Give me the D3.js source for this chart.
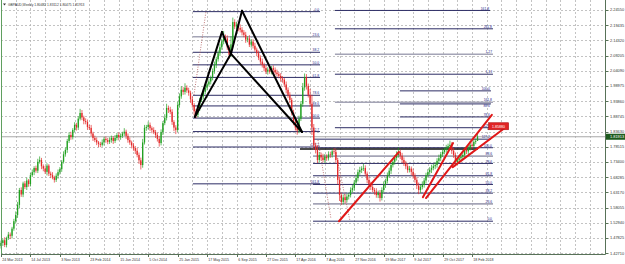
<!DOCTYPE html>
<html>
<head>
<meta charset="utf-8">
<script src="https://cdn.jsdelivr.net/npm/d3@7"></script>
<style>
  body { margin: 0; background: #fff; }
  svg text { font-family: "Liberation Sans", Arial, sans-serif; }
</style>
</head>
<body>
<script>
(function() {

    const width = 625;
    const height = 264;

    // weekly GBPAUD candles, week 0 = 24 Mar 2013
    const firstOpen = 1.452;
    const closes = [
        1.462,1.471,1.455,1.478,1.490,1.486,1.510,1.535,1.556,1.590,
        1.640,1.625,1.662,1.650,1.672,1.660,1.690,1.700,1.714,1.705,
        1.735,1.741,1.720,1.712,1.701,1.722,1.695,1.690,1.682,1.674,
        1.688,1.700,1.710,1.735,1.760,1.775,1.805,1.825,1.818,1.842,
        1.859,1.850,1.880,1.899,1.884,1.872,1.869,1.852,1.849,1.830,
        1.815,1.808,1.800,1.795,1.792,1.800,1.812,1.808,1.802,1.808,
        1.815,1.805,1.815,1.825,1.818,1.822,1.830,1.836,1.822,1.808,
        1.800,1.790,1.781,1.772,1.758,1.740,1.724,1.800,1.849,1.852,
        1.859,1.848,1.842,1.835,1.825,1.812,1.798,1.835,1.865,1.883,
        1.916,1.910,1.903,1.869,1.850,1.842,1.926,1.955,1.977,1.970,
        1.984,1.975,1.967,1.945,1.926,1.905,1.893,1.915,1.943,1.955,
        1.970,1.984,1.995,2.005,2.017,2.040,2.061,2.080,2.100,2.120,
        2.140,2.155,2.150,2.120,2.095,2.130,2.205,2.190,2.196,2.185,
        2.179,2.170,2.162,2.146,2.150,2.129,2.139,2.125,2.112,2.100,
        2.085,2.072,2.061,2.050,2.038,2.045,2.038,2.050,2.044,2.035,
        2.030,2.024,2.015,2.011,1.995,1.977,1.960,1.943,1.900,1.870,
        1.850,1.840,1.880,1.930,1.985,2.020,1.990,1.960,1.930,1.850,
        1.790,1.775,1.741,1.758,1.750,1.741,1.752,1.747,1.760,1.758,
        1.770,1.768,1.741,1.674,1.623,1.600,1.615,1.606,1.618,1.623,
        1.640,1.647,1.665,1.680,1.700,1.707,1.712,1.714,1.695,1.674,
        1.660,1.650,1.640,1.635,1.623,1.630,1.613,1.640,1.657,1.670,
        1.690,1.705,1.724,1.735,1.748,1.758,1.768,1.755,1.741,1.730,
        1.720,1.707,1.712,1.701,1.688,1.674,1.655,1.640,1.650,1.657,
        1.672,1.690,1.700,1.708,1.714,1.720,1.724,1.738,1.747,1.760,
        1.768,1.775,1.781,1.788,1.792,1.772,1.758,1.734,1.740,1.747,
        1.752,1.758,1.775,1.770,1.781,1.792,1.788,1.802,1.80482,1.81913
    ];
    // wick lengths beyond the body, in 0.001
    const wickUp = [
        8,6,10,5,9,7,6,8,12,10, 7,9,6,8,10,5,7,9,6,8,
        10,12,7,6,9,8,5,7,10,6, 8,9,7,6,10,8,7,9,11,6,
        9,7,8,14,10,6,9,8,7,10, 6,8,9,5,7,10,6,8,7,9,
        8,6,10,7,9,8,6,12,7,8, 9,6,8,7,10,8,9,12,10,7,
        11,8,6,9,7,8,10,9,7,12, 14,8,10,9,6,8,11,10,12,9,
        15,8,9,7,10,6,8,9,7,10, 8,9,7,10,8,9,11,8,10,12,
        9,20,8,10,7,27,15,9,10,8, 12,9,8,10,7,11,9,8,10,7,
        9,8,10,7,9,8,11,7,9,8, 10,7,9,8,6,10,8,9,7,10,
        8,12,10,9,15,12,10,8,20,30, 12,9,15,10,8,12,9,8,10,9,
        8,10,9,7,11,8,10,12,9,8, 9,10,8,12,9,11,8,14,9,7,
        10,8,9,7,11,8,10,9,12,8, 9,10,8,11,9,12,15,8,10,9,
        8,10,9,7,11,8,9,10,8,12, 9,8,10,9,11,8,10,9,12,8,
        10,9,11,8,14,9,10,8,12,9, 8,10,9,11,8,12,9,10,8,12
    ];
    const wickDown = [
        9,10,7,8,6,11,9,7,8,10, 12,8,9,7,10,9,8,6,10,7,
        8,6,10,9,7,12,8,10,6,9, 7,10,8,9,6,8,10,7,9,8,
        7,10,8,6,9,11,8,10,7,9, 10,7,9,11,8,6,10,9,8,7,
        9,10,7,8,11,9,7,8,10,9, 8,10,9,11,8,12,15,9,7,10,
        8,9,11,7,10,9,12,8,10,7, 9,11,8,10,12,14,7,9,8,10,
        9,8,10,12,9,14,11,8,9,7, 10,8,9,7,10,8,9,11,8,9,
        8,10,12,9,14,8,10,9,8,11, 9,10,8,11,9,8,10,9,7,10,
        8,10,9,11,8,10,7,9,10,8, 9,8,11,10,9,12,10,11,9,12,
        10,14,9,8,10,11,12,9,10,25, 14,12,10,9,11,8,10,9,8,10,
        9,8,12,15,20,10,9,12,8,10, 8,9,10,8,11,9,10,8,9,11,
        9,10,8,11,9,10,12,8,9,10, 8,9,11,8,10,9,8,11,10,9,
        10,9,8,11,10,9,12,14,10,8, 9,10,8,9,11,8,10,9,8,10,
        9,8,10,9,8,11,10,14,9,8, 10,9,8,9,11,8,10,9,8,0
    ];

    const priceTicks = [2.24550,2.19435,2.14320,2.09205,2.04090,1.98975,1.93860,1.88745,
        1.83630,1.78515,1.73400,1.68285,1.63170,1.58055,1.52940,1.47825,1.42710];
    const dateLabels = ["24 Mar 2013","14 Jul 2013","3 Nov 2013","23 Feb 2014","15 Jun 2014",
        "5 Oct 2014","25 Jan 2015","17 May 2015","6 Sep 2015","27 Dec 2015","17 Apr 2016",
        "7 Aug 2016","27 Nov 2016","19 Mar 2017","9 Jul 2017","29 Oct 2017","18 Feb 2018"];
    const headerText = "GBPAUD,Weekly  1.80482 1.83112 1.80475 1.81913";
    const lastPrice = 1.81913;

    // bat pattern X A B C D (week, price)
    const batWeeks = [105.4, 120.1, 125.0, 131.0, 163.6];
    const batPrices = [1.886, 2.172, 2.098, 2.243, 1.835];

    // fibonacci on the bat leg
    const leftFibLevels = [0, 23.6, 38.2, 50, 61.8, 78.6, 88.6, 100, 112.7, 127.2, 161.8];
    const leftFibText = ["0.0","23.6","38.2","50.0","61.8","78.6","88.6","100.0","112.7","127.2","161.8"];
    const leftFibAnchors = [2.240, 1.882];
    const leftFibWeeks = [104.3, 173.4];

    // fibonacci on the 2016-2018 swing
    const rightFibLevels = [0, 23.6, 38.2, 50, 61.8, 78.6, 88.6, 100, 127.2, 161.8, 200, 227.2, 261.8];
    const rightFibText = ["0.0","23.6","38.2","50.0","61.8","78.6","88.6","100.0","127.2","161.8","1.13","1.27","261.8"];
    const rightFibAnchors = [1.5351, 1.7823];
    const rightFibWeeks = [169.6, 181.5, 267.4];

    // other horizontal levels
    const extraPrices = [2.244, 1.9735, 1.9296, 1.8858, 1.811];
    const extraText = ["161.8", "100.0", "88.6", "78.6", "127.2"];
    const extraFrom = [181.5, 216.8, 216.8, 216.8, 169.6];
    const extraTo = [265.8, 266.3, 266.3, 266.3, 266.3];
    const supportPrice = 1.778;
    const supportWeeks = [162.5, 259.2];

    // red trend lines [week1, price1, week2, price2]
    const redLines = [
        [183.7, 1.535, 216.3, 1.768],
        [229.3, 1.616, 245.7, 1.798],
        [231.0, 1.613, 266.8, 1.893],
        [245.5, 1.717, 274.5, 1.852]
    ];
    // dotted fib diagonals
    const dottedLines = [
        [104.9, 1.960, 111.4, 2.240],
        [172.3, 1.808, 179.3, 1.545],
        [181.5, 1.782, 189.7, 1.535]
    ];
    const redLabelWeek = 265.3;
    const redLabelPrice = 1.8545;
    const redLabelText = "1.85880";

    const start = Date.UTC(2013, 2, 24);
    const weekDate = w => new Date(start + w * 7 * 864e5);
    const parseDate = d3.utcParse("%d %b %Y");

    const plotRight = 605.5;
    const plotBottom = 254.5;

    const x = d3.scaleUtc()
        .domain([weekDate(0), parseDate("18 Feb 2018")])
        .range([1, 472]);
    const y = d3.scaleLinear()
        .domain([1.42710, 2.24550])
        .range([253.3, 10]);
    const xw = w => x(weekDate(w));

    const svg = d3.select("body").append("svg")
        .attr("width", width)
        .attr("height", height);

    svg.append("rect").attr("width", width).attr("height", height).attr("fill", "#fff");

    // grid
    const grid = svg.append("g")
        .attr("stroke", "#b4b4b4")
        .attr("stroke-width", 0.8)
        .attr("stroke-dasharray", "2,2");
    grid.selectAll("line.h")
        .data(priceTicks)
        .enter().append("line")
        .attr("x1", 1).attr("x2", plotRight)
        .attr("y1", d => Math.round(y(d)) + 0.5)
        .attr("y2", d => Math.round(y(d)) + 0.5);
    grid.selectAll("line.v")
        .data(d3.range(8, 330, 8).filter(w => xw(w) < plotRight - 2))
        .enter().append("line")
        .attr("x1", d => Math.round(xw(d)) + 0.5)
        .attr("x2", d => Math.round(xw(d)) + 0.5)
        .attr("y1", 0).attr("y2", plotBottom);

    // bid line
    svg.append("line")
        .attr("x1", 1).attr("x2", plotRight)
        .attr("y1", y(lastPrice)).attr("y2", y(lastPrice))
        .attr("stroke", "#a8a8a8").attr("stroke-width", 1);

    // fibonacci levels
    const fibColor = "#2c2c64";
    const fibGray = "#a4a4b6";
    const grayLevels = new Set([23.6, 88.6, 161.8, 227.2]);
    const rightFibPrices = rightFibLevels.map(lv =>
        rightFibAnchors[0] + (rightFibAnchors[1] - rightFibAnchors[0]) * lv / 100);

    function drawLevel(g, price, w1, w2, label, gray, below) {
        g.append("line")
            .attr("x1", xw(w1)).attr("x2", xw(w2))
            .attr("y1", y(price)).attr("y2", y(price))
            .attr("stroke", gray ? fibGray : fibColor)
            .attr("stroke-width", gray ? 1.6 : 1);
        if (label) {
            g.append("text")
                .attr("x", xw(w2) - 1)
                .attr("y", below ? y(price) + 3.4 : y(price) - 0.8)
                .attr("text-anchor", "end")
                .attr("font-size", 3.3)
                .attr("fill", "#1e1e8a")
                .text(label);
        }
    }

    const fibG = svg.append("g");
    leftFibLevels.forEach((lv, i) => {
        const p = leftFibAnchors[0] + (leftFibAnchors[1] - leftFibAnchors[0]) * lv / 100;
        drawLevel(fibG, p, leftFibWeeks[0], leftFibWeeks[1], leftFibText[i], lv === 23.6, false);
    });
    rightFibLevels.forEach((lv, i) => {
        const from = lv > 100 ? rightFibWeeks[1] : rightFibWeeks[0];
        drawLevel(fibG, rightFibPrices[i], from, rightFibWeeks[2], rightFibText[i], grayLevels.has(lv), false);
    });
    extraPrices.forEach((p, i) => {
        // put the label under its line when a fib label sits just above
        const crowded = rightFibPrices.some(q => q > p && y(p) - y(q) < 4);
        drawLevel(fibG, p, extraFrom[i], extraTo[i], extraText[i], false, crowded);
    });
    svg.append("line")
        .attr("x1", xw(supportWeeks[0])).attr("x2", xw(supportWeeks[1]))
        .attr("y1", y(supportPrice)).attr("y2", y(supportPrice))
        .attr("stroke", "#111").attr("stroke-width", 1.4);

    // dotted diagonals
    svg.selectAll("line.dot")
        .data(dottedLines)
        .enter().append("line")
        .attr("x1", d => xw(d[0])).attr("y1", d => y(d[1]))
        .attr("x2", d => xw(d[2])).attr("y2", d => y(d[3]))
        .attr("stroke", "#b05858")
        .attr("stroke-width", 0.8)
        .attr("stroke-dasharray", "1,1.5");

    // candles
    const bars = closes.map((c, i) => {
        const o = i ? closes[i - 1] : firstOpen;
        return {
            i: i, o: o, c: c,
            h: Math.max(o, c) + wickUp[i] / 1000,
            l: Math.min(o, c) - wickDown[i] / 1000
        };
    });
    const up = "#21a121";
    const down = "#e42a2a";
    const candles = svg.append("g").selectAll("g")
        .data(bars)
        .enter().append("g");
    candles.append("line")
        .attr("x1", d => xw(d.i)).attr("x2", d => xw(d.i))
        .attr("y1", d => y(d.h)).attr("y2", d => y(d.l))
        .attr("stroke", d => d.c >= d.o ? up : down)
        .attr("stroke-width", 0.7);
    candles.append("rect")
        .attr("x", d => xw(d.i) - 0.65)
        .attr("width", 1.3)
        .attr("y", d => y(Math.max(d.o, d.c)))
        .attr("height", d => Math.max(0.6, Math.abs(y(d.o) - y(d.c))))
        .attr("fill", d => d.c >= d.o ? up : down);

    // bat pattern: triangles XAB and BCD
    const pt = k => [xw(batWeeks[k]), y(batPrices[k])];
    const batSegs = [[0, 1], [1, 2], [2, 0], [2, 3], [3, 4], [4, 2]];
    svg.append("g").selectAll("line")
        .data(batSegs)
        .enter().append("line")
        .attr("x1", d => pt(d[0])[0]).attr("y1", d => pt(d[0])[1])
        .attr("x2", d => pt(d[1])[0]).attr("y2", d => pt(d[1])[1])
        .attr("stroke", "#000")
        .attr("stroke-width", 2)
        .attr("stroke-linecap", "round");

    // red trend lines
    svg.append("g").selectAll("line")
        .data(redLines)
        .enter().append("line")
        .attr("x1", d => xw(d[0])).attr("y1", d => y(d[1]))
        .attr("x2", d => xw(d[2])).attr("y2", d => y(d[3]))
        .attr("stroke", "#e01818")
        .attr("stroke-width", 2)
        .attr("stroke-linecap", "round");

    // red price label
    const rl = svg.append("g")
        .attr("transform", "translate(" + xw(redLabelWeek) + "," + y(redLabelPrice) + ")");
    rl.append("rect")
        .attr("x", -0.5).attr("y", -3.5)
        .attr("width", 20).attr("height", 7)
        .attr("fill", "#e02424")
        .attr("stroke", "#b01010").attr("stroke-width", 0.6);
    rl.append("text")
        .attr("x", 9.5).attr("y", 1.4)
        .attr("text-anchor", "middle")
        .attr("font-size", 3.6)
        .attr("fill", "#fff")
        .text(redLabelText);

    // frame and axes
    const axisColor = "#587258";
    svg.append("line")
        .attr("x1", 1.5).attr("x2", 1.5).attr("y1", 0).attr("y2", plotBottom)
        .attr("stroke", "#5f9f5f").attr("stroke-width", 1);
    svg.append("line")
        .attr("x1", plotRight).attr("x2", plotRight).attr("y1", 0).attr("y2", plotBottom)
        .attr("stroke", axisColor).attr("stroke-width", 1);
    svg.append("line")
        .attr("x1", 1).attr("x2", plotRight).attr("y1", plotBottom).attr("y2", plotBottom)
        .attr("stroke", axisColor).attr("stroke-width", 1);

    const yAxis = svg.append("g");
    priceTicks.forEach(p => {
        yAxis.append("line")
            .attr("x1", plotRight).attr("x2", plotRight + 3)
            .attr("y1", Math.round(y(p)) + 0.5).attr("y2", Math.round(y(p)) + 0.5)
            .attr("stroke", axisColor);
        yAxis.append("text")
            .attr("x", 610).attr("y", y(p) + 1.4)
            .attr("font-size", 3.9)
            .attr("fill", "#333")
            .text(p.toFixed(5));
    });

    // last price tag
    svg.append("rect")
        .attr("x", plotRight + 0.5).attr("y", y(lastPrice) - 3)
        .attr("width", 19).attr("height", 6)
        .attr("fill", "#1d5a1d");
    svg.append("text")
        .attr("x", 610).attr("y", y(lastPrice) + 1.4)
        .attr("font-size", 3.9)
        .attr("fill", "#fff")
        .text(lastPrice.toFixed(5));

    const xAxis = svg.append("g");
    dateLabels.forEach(s => {
        const px = Math.round(x(parseDate(s))) + 0.5;
        xAxis.append("line")
            .attr("x1", px).attr("x2", px)
            .attr("y1", plotBottom).attr("y2", plotBottom + 2.5)
            .attr("stroke", axisColor);
        xAxis.append("text")
            .attr("x", px + 0.8).attr("y", 260.5)
            .attr("font-size", 3.6)
            .attr("fill", "#333")
            .text(s);
    });

    // header
    svg.append("path")
        .attr("d", "M3,3.5 L6,3.5 L4.5,5.5 Z")
        .attr("fill", "#333");
    svg.append("text")
        .attr("x", 8).attr("y", 5.6)
        .attr("font-size", 3.3)
        .attr("fill", "#333")
        .text(headerText);

})();
</script>
</body>
</html>
